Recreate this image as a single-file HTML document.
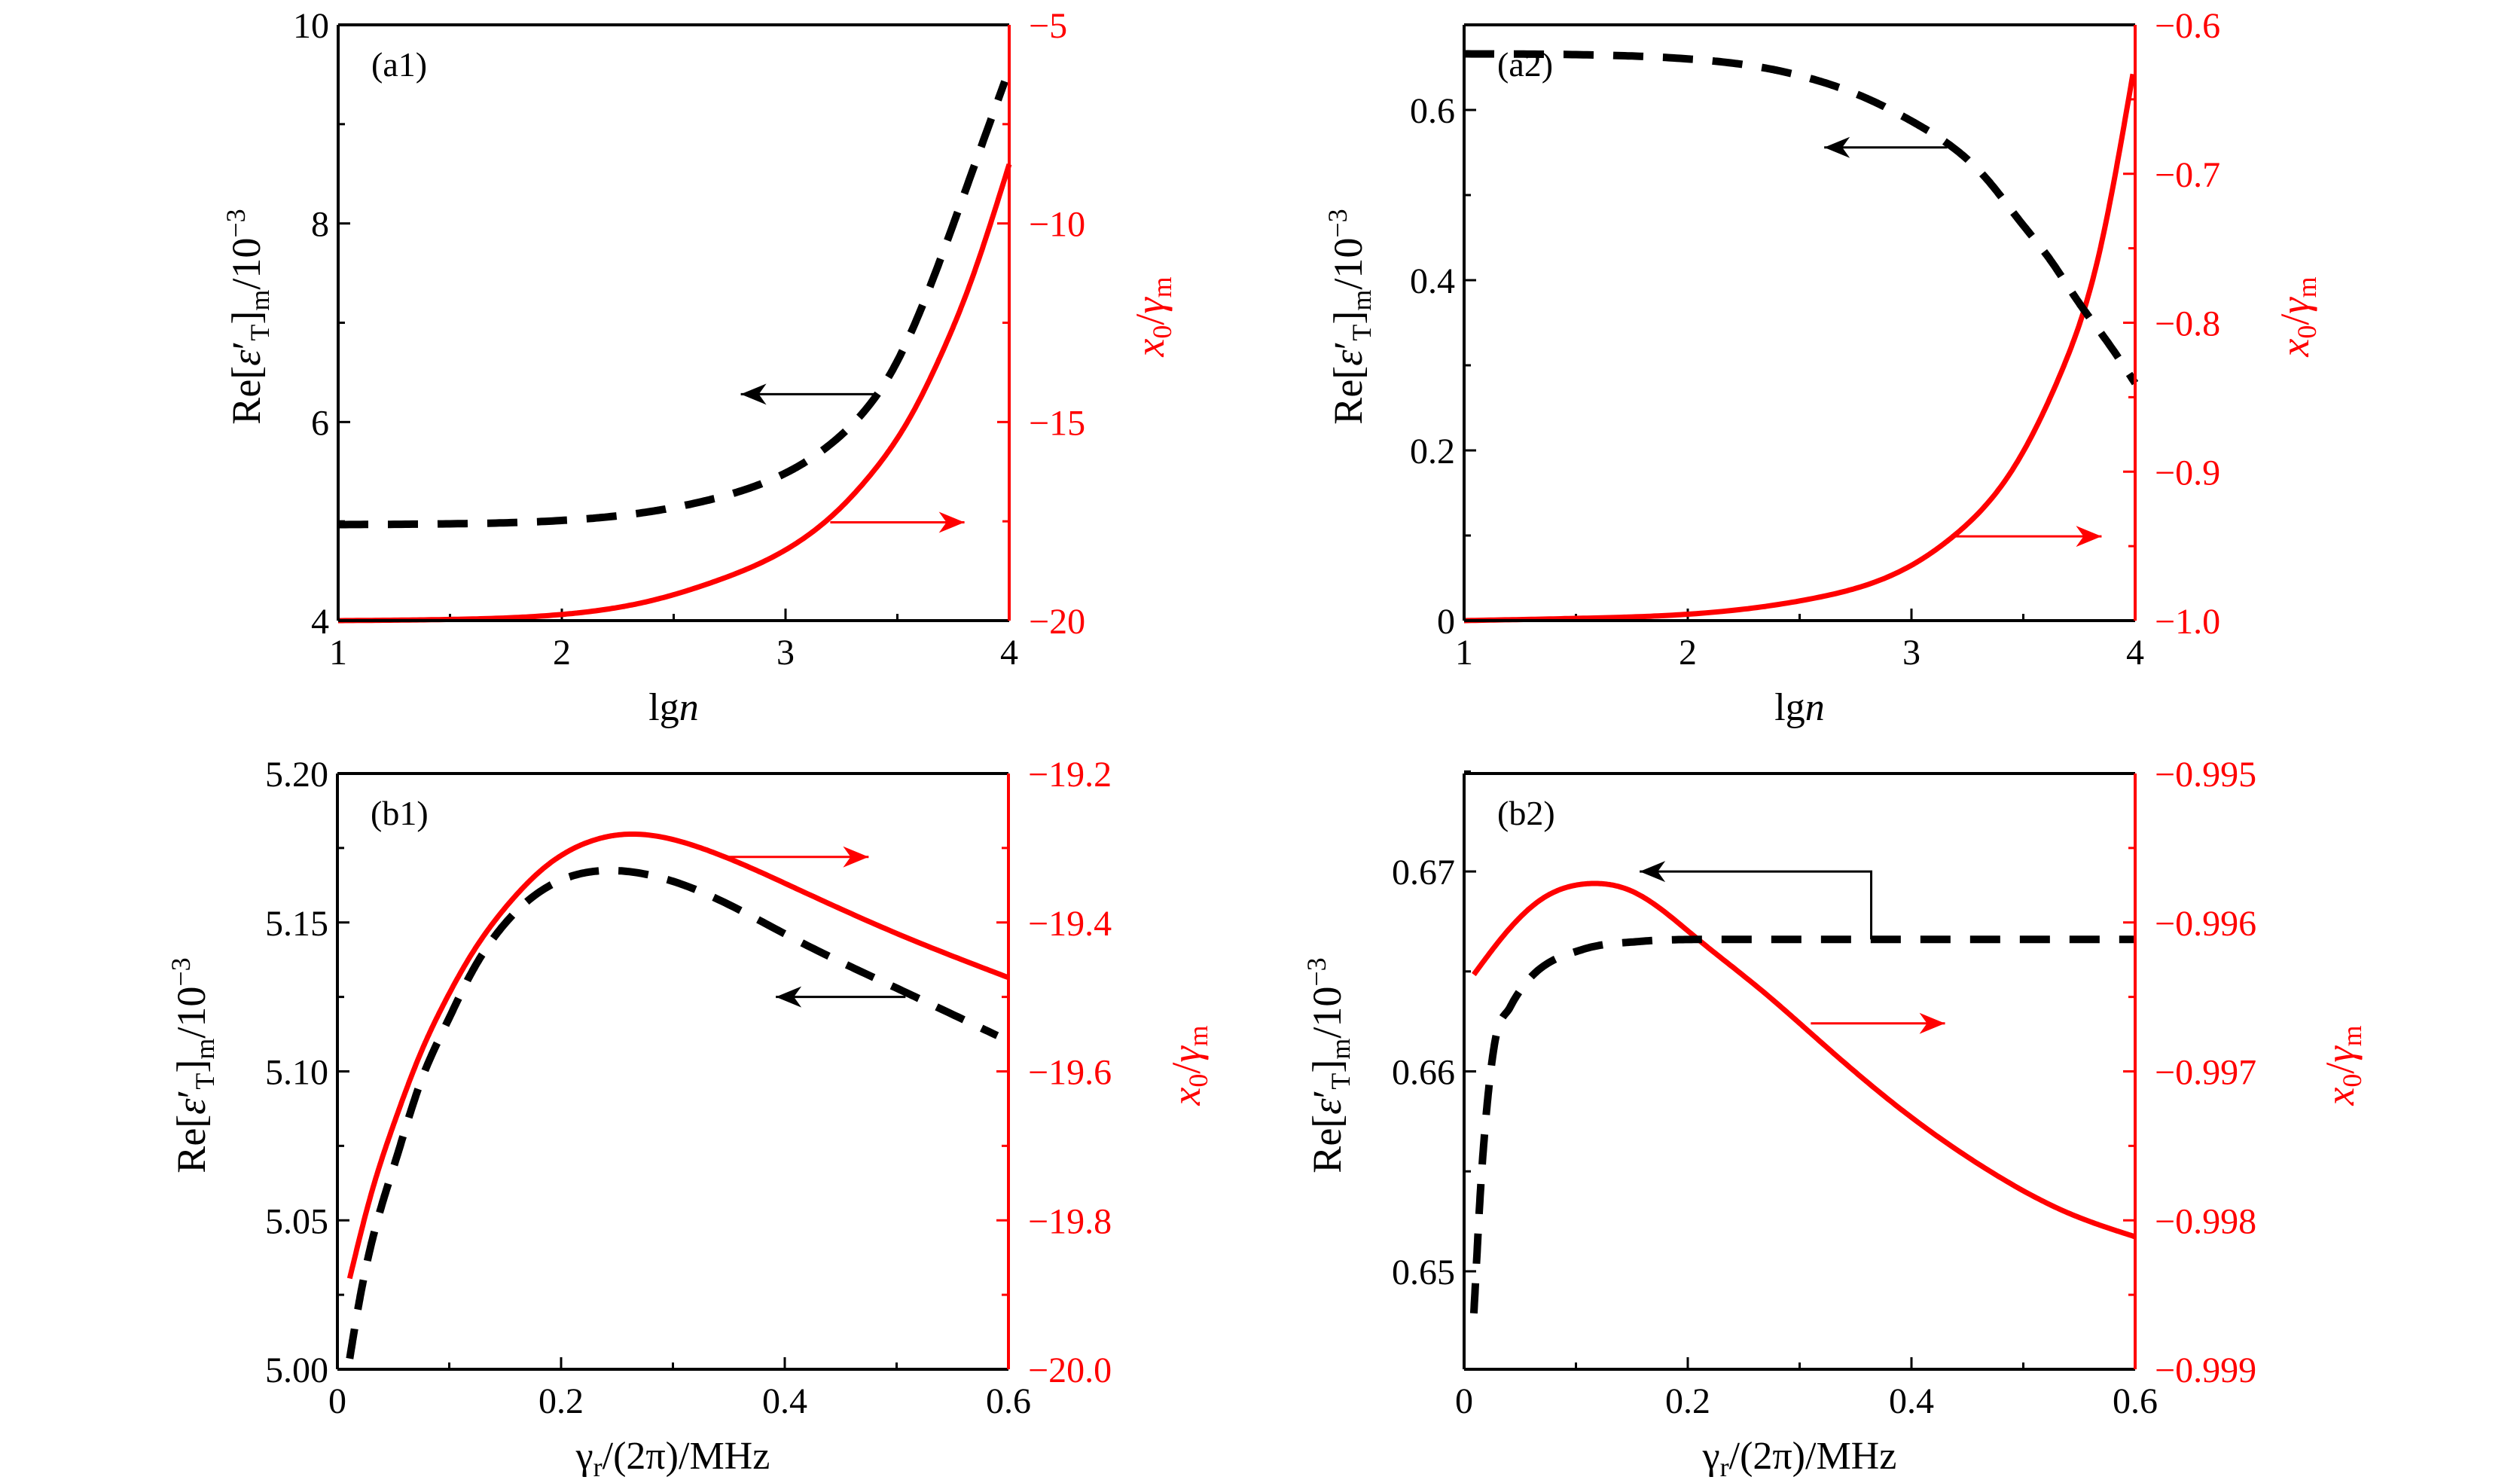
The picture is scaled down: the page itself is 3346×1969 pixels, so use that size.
<!DOCTYPE html>
<html><head><meta charset="utf-8"><style>
html,body{margin:0;padding:0;background:#fff}
svg{display:block}
text{font-family:"Liberation Serif",serif}
</style></head><body>
<svg id="fig" width="3346" height="1969" viewBox="0 0 3346 1969" xmlns="http://www.w3.org/2000/svg"></svg>
<script>
// ---- data ----
const a1X = [1, 1.5, 2.01, 2.4, 2.59, 2.82, 3.01, 3.2, 3.36, 3.48, 3.64, 3.82, 3.98];
const a1Black = [4.967, 4.975, 5.01, 5.10, 5.18, 5.32, 5.497, 5.775, 6.13, 6.53, 7.33, 8.43, 9.43];
const a1RedX = [1, 1.5, 2.01, 2.363, 2.70, 3.0, 3.21, 3.38, 3.55, 3.70, 3.82, 4];
const a1Red = [-20, -19.97, -19.84, -19.545, -18.98, -18.22, -17.35, -16.33, -14.95, -13.25, -11.6, -8.51];

const a2X = [1, 1.5, 2, 2.36, 2.58, 2.8, 3.01, 3.19, 3.34, 3.48, 3.62, 3.75, 3.88, 4];
const a2Black = [0.6659, 0.665, 0.660, 0.6486, 0.6346, 0.6136, 0.5855, 0.555, 0.5178, 0.471, 0.424, 0.373, 0.326, 0.279];
const a2RedX = [1, 1.5, 2, 2.58, 3.01, 3.19, 3.45, 3.67, 3.84, 3.99];
const a2Red = [-1.0, -0.9985, -0.9957, -0.9845, -0.962, -0.943, -0.899, -0.833, -0.753, -0.633];

const b1X = [0.011, 0.018, 0.029, 0.052, 0.074, 0.097, 0.119, 0.142, 0.171, 0.209, 0.254, 0.327, 0.411, 0.502, 0.59];
const b1Black = [5.0036, 5.0195, 5.040, 5.070, 5.096, 5.1156, 5.1325, 5.146, 5.1575, 5.1655, 5.1673, 5.160, 5.144, 5.1276, 5.112];
const b1RedX = [0.011, 0.029, 0.052, 0.074, 0.097, 0.119, 0.153, 0.187, 0.221, 0.254, 0.327, 0.411, 0.502, 0.6];
const b1Red = [-19.878, -19.771, -19.664, -19.577, -19.504, -19.445, -19.375, -19.324, -19.294, -19.282, -19.301, -19.355, -19.416, -19.474];

const b2X = [0.0087, 0.016, 0.027, 0.041, 0.063, 0.106, 0.157, 0.215, 0.6];
const b2Black = [0.6479, 0.6552, 0.6613, 0.6632, 0.6649, 0.6661, 0.6665, 0.6666, 0.6666];
const b2RedX = [0.0087, 0.034, 0.070, 0.110, 0.150, 0.207, 0.265, 0.323, 0.395, 0.468, 0.54, 0.6];
const b2Red = [-0.99635, -0.99610, -0.99584, -0.99574, -0.99579, -0.99610, -0.99645, -0.99683, -0.99728, -0.99766, -0.99795, -0.99811];

const aXTicks = ["1", "2", "3", "4"];
const bXTicks = ["0", "0.2", "0.4", "0.6"];
const a1LTicks = ["4", "6", "8", "10"];
const a1RTicks = ["−20", "−15", "−10", "−5"];
const a2LTicks = ["0", "0.2", "0.4", "0.6"];
const a2RTicks = ["−1.0", "−0.9", "−0.8", "−0.7", "−0.6"];
const b1LTicks = ["5.00", "5.05", "5.10", "5.15", "5.20"];
const b1RTicks = ["−20.0", "−19.8", "−19.6", "−19.4", "−19.2"];
const b2LTicks = ["0.65", "0.66", "0.67"];
const b2RTicks = ["−0.999", "−0.998", "−0.997", "−0.996", "−0.995"];

const NS = "http://www.w3.org/2000/svg";
const svg = document.getElementById("fig");
function mk(tag, attrs, parent) {
  const e = document.createElementNS(NS, tag);
  for (const k in attrs) e.setAttribute(k, attrs[k]);
  (parent || svg).appendChild(e);
  return e;
}
function num(s){return parseFloat(s.replace("−","-"));}
function hermitePath(xs, ys, m, sx, sy){
  let p = "";
  for (let i = 0; i < xs.length-1; i++) {
    const h = xs[i+1]-xs[i], N = 30;
    for (let k = (i===0?0:1); k <= N; k++) {
      const t = k/N, t2 = t*t, t3 = t2*t;
      const y = (2*t3-3*t2+1)*ys[i] + (t3-2*t2+t)*h*m[i] + (-2*t3+3*t2)*ys[i+1] + (t3-t2)*h*m[i+1];
      p += (p ? " L" : "M") + sx(xs[i]+t*h).toFixed(1) + "," + sy(y).toFixed(1);
    }
  }
  return p;
}
function monoPath(xs, ys, sx, sy){
  const n = xs.length, d = [], m = new Array(n);
  for (let i = 0; i < n-1; i++) d.push((ys[i+1]-ys[i])/(xs[i+1]-xs[i]));
  m[0] = d[0]; m[n-1] = d[n-2];
  for (let i = 1; i < n-1; i++) m[i] = (d[i-1]*d[i] <= 0) ? 0 : (d[i-1]+d[i])/2;
  for (let i = 0; i < n-1; i++) {
    if (d[i] === 0) { m[i] = 0; m[i+1] = 0; continue; }
    const a = m[i]/d[i], b = m[i+1]/d[i], s = a*a + b*b;
    if (s > 9) { const t = 3/Math.sqrt(s); m[i] = t*a*d[i]; m[i+1] = t*b*d[i]; }
  }
  return hermitePath(xs, ys, m, sx, sy);
}
function splinePath(xs, ys, sx, sy){
  const n = xs.length, h = [], a = new Array(n).fill(0), b = new Array(n).fill(0), c = new Array(n).fill(0), r = new Array(n).fill(0);
  for (let i = 0; i < n-1; i++) h.push(xs[i+1]-xs[i]);
  b[0] = 1; b[n-1] = 1;
  for (let i = 1; i < n-1; i++) {
    a[i] = h[i-1]; b[i] = 2*(h[i-1]+h[i]); c[i] = h[i];
    r[i] = 6*((ys[i+1]-ys[i])/h[i] - (ys[i]-ys[i-1])/h[i-1]);
  }
  for (let i = 1; i < n; i++) { const w = a[i]/b[i-1]; b[i] -= w*c[i-1]; r[i] -= w*r[i-1]; }
  const M = new Array(n); M[n-1] = r[n-1]/b[n-1];
  for (let i = n-2; i >= 0; i--) M[i] = (r[i]-c[i]*M[i+1])/b[i];
  const m = new Array(n);
  for (let i = 0; i < n-1; i++) m[i] = (ys[i+1]-ys[i])/h[i] - h[i]*(2*M[i]+M[i+1])/6;
  m[n-1] = (ys[n-1]-ys[n-2])/h[n-2] + h[n-2]*(M[n-2]+2*M[n-1])/6;
  return hermitePath(xs, ys, m, sx, sy);
}
function ylabelLeft(g, x, y) {
  const t = mk("text", {x: 0, y: 0, "font-size": 54, "text-anchor": "middle", transform: `translate(${x},${y}) rotate(-90)`}, g);
  
  
  t.innerHTML = 'Re[<tspan font-style="italic">ε</tspan>′<tspan font-size="36" dy="12">T</tspan><tspan dy="-12">]</tspan><tspan font-size="36" dy="12">m</tspan><tspan dy="-12">/10</tspan><tspan font-size="36" dy="-20">−3</tspan>';
}
function ylabelRight(g, x, y) {
  const t = mk("text", {x: 0, y: 0, "font-size": 54, fill: "#f00", "text-anchor": "middle", transform: `translate(${x},${y}) rotate(-90)`}, g);
  
  
  t.innerHTML = '<tspan font-style="italic">x</tspan><tspan font-size="36" dy="10">0</tspan><tspan dy="-10">/</tspan><tspan font-style="italic">γ</tspan><tspan font-size="36" dy="10">m</tspan>';
}

function panel(cfg) {
  const {name, L, T, W, H, xmin, xmax, lmin, lmax, rmin, rmax} = cfg;
  const g = mk("g", {});
  
  
  const sx = v => L + (v - xmin) / (xmax - xmin) * W;
  const sl = v => T + H - (v - lmin) / (lmax - lmin) * H;
  const sr = v => T + H - (v - rmin) / (rmax - rmin) * H;
  const tg = mk("g", {}, g);
  
  
  const addTicks = (step, minorDiv, lo, hi, fn) => {
    const n = Math.round((hi - lo) / (step / minorDiv));
    for (let i = 0; i <= n; i++) fn(lo + i * step / minorDiv, i % minorDiv === 0);
  };
  const xt = cfg.xTicks.map(num), lt = cfg.lTicks.map(num), rt = cfg.rTicks.map(num);
  addTicks(xt[1]-xt[0], 2, xmin, xmax, (v, maj) => mk("line", {x1: sx(v), x2: sx(v), y1: T+H, y2: T+H-(maj?16:9), stroke:"#000","stroke-width":3}, tg));
  const lh = (lt[1]-lt[0])/2;
  addTicks(lt[1]-lt[0], 2, Math.ceil(lmin/lh-1e-6)*lh, lmax, (v) => {
    const isMaj = lt.some(t => Math.abs(t - v) < 1e-7);
    mk("line", {x1: L, x2: L+(isMaj?16:9), y1: sl(v), y2: sl(v), stroke:"#000","stroke-width":3}, tg);
  });
  addTicks(rt[1]-rt[0], 2, rmin, rmax, (v, maj) => mk("line", {x1: L+W, x2: L+W-(maj?16:9), y1: sr(v), y2: sr(v), stroke:"#f00","stroke-width":3}, tg));
  cfg.xTicks.forEach(s => { const t = mk("text", {x: sx(num(s)), y: T+H+58, "font-size": 48, "text-anchor":"middle"}, g); t.textContent = s;
      });
  cfg.lTicks.forEach(s => { const t = mk("text", {x: L-12, y: sl(num(s))+17, "font-size": 48, "text-anchor":"end"}, g); t.textContent = s;
      });
  cfg.rTicks.forEach(s => { const t = mk("text", {x: L+W+26, y: sr(num(s))+17, "font-size": 48, fill:"#f00"}, g); t.textContent = s;
      });
  const red = mk("path", {d: splinePath(cfg.rx, cfg.ry, sx, sr), fill:"none", stroke:"#f00", "stroke-width": 7, "stroke-linejoin":"round"}, g);
  
  
  const bd = cfg.monoBlack ? monoPath(cfg.bx, cfg.by, sx, sl) : splinePath(cfg.bx, cfg.by, sx, sl);
  const blk = mk("path", {d: bd, fill:"none", stroke:"#000", "stroke-width": 10, "stroke-dasharray":"40 26"}, g);
  
  
  const fr = mk("g", {}, g);
  
  
  mk("line", {x1:L, x2:L+W, y1:T, y2:T, stroke:"#000","stroke-width":4}, fr);
  mk("line", {x1:L, x2:L+W, y1:T+H, y2:T+H, stroke:"#000","stroke-width":4}, fr);
  mk("line", {x1:L, x2:L, y1:T, y2:T+H, stroke:"#000","stroke-width":4}, fr);
  mk("line", {x1:L+W, x2:L+W, y1:T, y2:T+H, stroke:"#f00","stroke-width":4}, fr);
  const arrow = (d, x2, y2, dir, col) => {
    const ag = mk("g", {}, g);
    
    
    mk("path", {d, fill:"none", stroke:col, "stroke-width":3}, ag);
    mk("path", {d:`M${x2},${y2} L${x2-dir*34},${y2-14} L${x2-dir*24},${y2} L${x2-dir*34},${y2+14} Z`, fill:col}, ag);
  };
  const ba = cfg.blackArrow, ra = cfg.redArrow;
  if (ba.length === 3) arrow(`M${sx(ba[0])},${sl(ba[2])} L${sx(ba[1])},${sl(ba[2])}`, sx(ba[1]), sl(ba[2]), Math.sign(ba[1]-ba[0]), "#000");
  else arrow(`M${sx(ba[0])},${sl(ba[3])} L${sx(ba[0])},${sl(ba[4])} L${sx(ba[2])},${sl(ba[4])}`, sx(ba[2]), sl(ba[4]), Math.sign(ba[2]-ba[0]), "#000");
  arrow(`M${sx(ra[0])},${sl(ra[2])} L${sx(ra[1])},${sl(ra[2])}`, sx(ra[1]), sl(ra[2]), 1, "#f00");
  const pl = mk("text", {x: L+44, y: T+68, "font-size": 46}, g);
  pl.textContent = cfg.label;
  
  
  ylabelLeft(g, cfg.ltx, T + H/2 - 8);
  ylabelRight(g, cfg.rtx, T + H/2 - 8);
  const xt2 = mk("text", {x: L + W/2, y: T + H + 132, "font-size": 52, "text-anchor":"middle"}, g);
  
  
  xt2.innerHTML = cfg.xTitle;
}

const lgn = 'lg<tspan font-style="italic">n</tspan>';
const gam = 'γ<tspan font-size="36" dy="10">r</tspan><tspan dy="-10">/(2π)/MHz</tspan>';
panel({name:"panel-a1", label:"(a1)", L:449, T:33, W:891, H:791, xmin:1, xmax:4, lmin:4, lmax:10, rmin:-20, rmax:-5,
  xTicks:aXTicks, lTicks:a1LTicks, rTicks:a1RTicks, bx:a1X, by:a1Black, rx:a1RedX, ry:a1Red,
  blackArrow:[3.4, 2.8, 6.28], redArrow:[3.2, 3.8, 4.99], ltx:345, rtx:1545, xTitle:lgn});
panel({name:"panel-a2", label:"(a2)", L:1944, T:33, W:891, H:791, xmin:1, xmax:4, lmin:0, lmax:0.7, rmin:-1.0, rmax:-0.6,
  xTicks:aXTicks, lTicks:a2LTicks, rTicks:a2RTicks, bx:a2X, by:a2Black, rx:a2RedX, ry:a2Red,
  blackArrow:[3.16, 2.61, 0.556], redArrow:[3.18, 3.85, 0.099], ltx:1808, rtx:3065, xTitle:lgn});
panel({name:"panel-b1", label:"(b1)", L:448, T:1027, W:891, H:791, xmin:0, xmax:0.6, lmin:5.0, lmax:5.2, rmin:-20, rmax:-19.2,
  xTicks:bXTicks, lTicks:b1LTicks, rTicks:b1RTicks, bx:b1X, by:b1Black, rx:b1RedX, ry:b1Red,
  blackArrow:[0.508, 0.392, 5.125], redArrow:[0.35, 0.475, 5.172], ltx:272, rtx:1593, xTitle:gam});
panel({name:"panel-b2", label:"(b2)", L:1944, T:1027, W:891, H:791, xmin:0, xmax:0.6, lmin:0.6451, lmax:0.6749, rmin:-0.999, rmax:-0.995,
  xTicks:bXTicks, lTicks:b2LTicks, rTicks:b2RTicks, bx:b2X, by:b2Black, rx:b2RedX, ry:b2Red, monoBlack:true,
  blackArrow:[0.364, 0, 0.157, 0.6666, 0.670], redArrow:[0.31, 0.43, 0.6624], ltx:1780, rtx:3125, xTitle:gam});
</script>
</body></html>
